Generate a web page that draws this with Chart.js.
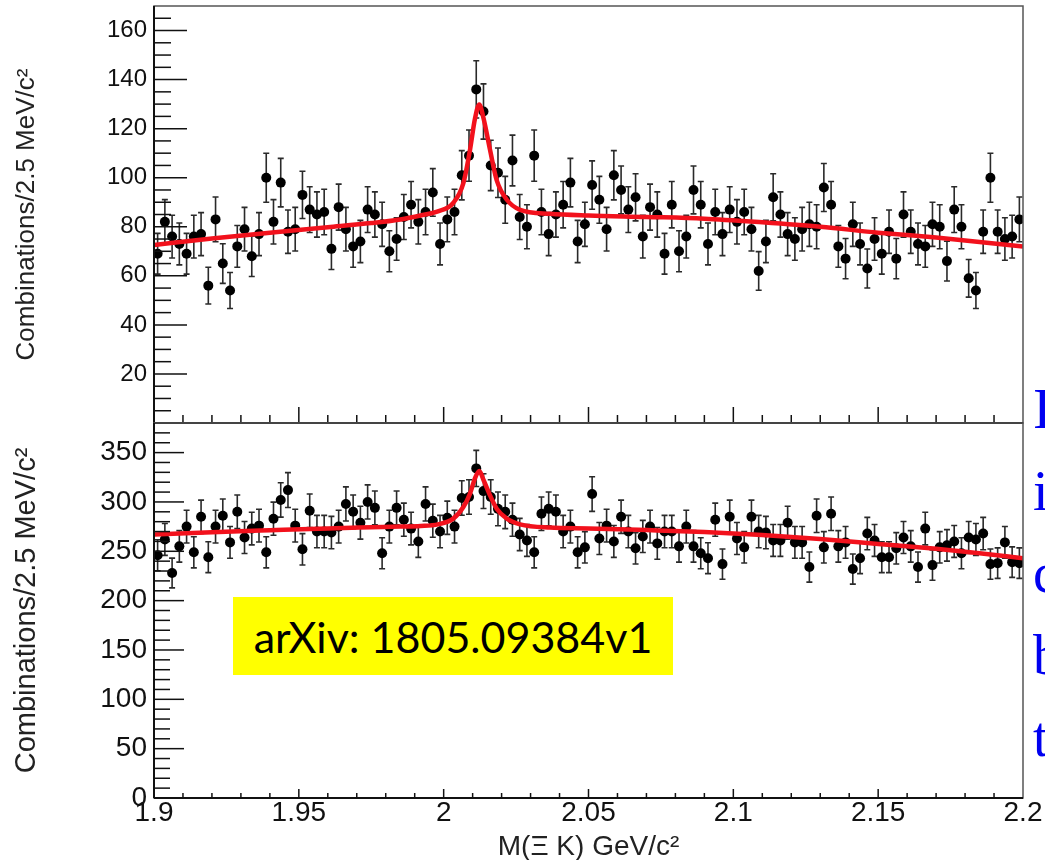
<!DOCTYPE html>
<html>
<head>
<meta charset="utf-8">
<script src="https://cdn.jsdelivr.net/npm/chart.js@4.4.1/dist/chart.umd.min.js"></script>
<style>
  html, body { margin: 0; padding: 0; background: #fff; overflow: hidden; }
  #wrap { position: relative; width: 1045px; height: 860px; overflow: hidden; }
  #chartA { position: absolute; left: 0; top: 0; }
  #chartB { position: absolute; left: 0; top: 400px; }
  #note {
    position: absolute; left: 233px; top: 597px; width: 440px; height: 78px;
    background: #ffff00; color: #000; font-family: Lato, sans-serif; font-size: 43px;
    display: flex; align-items: center; justify-content: center; z-index: 2;
  }
  #side {
    position: absolute; left: 1033px; top: 368px; font-family: "Liberation Serif", serif;
    font-size: 56px; line-height: 82px; color: #0000f0; white-space: nowrap;
  }
</style>
</head>
<body>
<div id="wrap">
  <canvas id="chartA" width="1045" height="430"></canvas>
  <canvas id="chartB" width="1045" height="480"></canvas>
  <div id="note">arXiv: 1805.09384v1</div>
  <div id="side">I<br>i<br>c<br>b<br>t</div>
</div>
<script>
// histogram binning: 2.5 MeV bins from 1.9 GeV
const binLow = 1.9;
const binWidth = 0.0025;

// panel (a) counts per bin
const countsA = [
  69, 82, 76, 73, 69, 76, 77, 56, 83, 65,
  54, 72, 79, 68, 77, 100, 82, 98, 78, 79,
  93, 87, 85, 86, 71, 88, 79, 72, 74, 87,
  85, 81, 70, 75, 84, 89, 82, 86, 94, 73,
  83, 86, 101, 109, 136, 127, 105, 102, 91, 107,
  84, 80, 109, 86, 77, 85, 89, 98, 74, 81,
  97, 91, 79, 101, 95, 87, 92, 76, 88, 85,
  69, 89, 70, 76, 95, 89, 73, 86, 77, 87,
  82, 86, 79, 62, 74, 92, 85, 77, 75, 79,
  81, 80, 96, 89, 72, 67, 81, 73, 63, 75,
  69, 78, 67, 85, 78, 73, 72, 81, 80, 66,
  87, 80, 59, 54, 78, 100, 78, 75, 76, 83
];

// panel (b) counts per bin
const countsB = [
  246, 262, 228, 255, 275, 249, 285, 244, 275, 286,
  259, 290, 264, 273, 276, 249, 283, 302, 312, 276,
  252, 291, 270, 270, 269, 275, 298, 290, 279, 300,
  294, 248, 275, 294, 282, 273, 260, 298, 281, 270,
  284, 275, 304, 305, 334, 311, 305, 293, 290, 282,
  267, 261, 249, 288, 293, 290, 270, 275, 249, 254,
  308, 263, 276, 260, 285, 270, 253, 265, 275, 258,
  270, 270, 255, 275, 255, 248, 243, 282, 237, 285,
  263, 254, 285, 270, 269, 261, 261, 279, 259, 259,
  234, 286, 254, 288, 255, 259, 232, 243, 268, 261,
  244, 244, 253, 264, 255, 234, 273, 236, 254, 256,
  260, 248, 264, 262, 268, 237, 238, 259, 239, 238
];

// fit curves
const fitX = [1.900, 1.920, 1.940, 1.960, 1.975, 1.985, 1.992, 1.998, 2.0033, 2.0068, 2.0091, 2.0108,
  2.0123, 2.0138, 2.0160, 2.0183, 2.0218, 2.0264, 2.0367, 2.050, 2.070, 2.090, 2.110, 2.130,
  2.150, 2.170, 2.185, 2.200];
const fitA = [72.6, 75.2, 77.6, 79.8, 81.5, 83.0, 84.6, 86.3, 89.7, 97.8, 111.4, 124,
  129.8, 124, 111.4, 99, 91, 86.9, 85.3, 84.6, 84.0, 83.3, 81.8, 80.0,
  77.6, 75.6, 73.8, 72.0];
const fitB = [267, 269.3, 271.3, 273.2, 274.3, 275.0, 275.6, 277.3, 283.1, 294.9, 308.4, 324,
  331.3, 322, 306.7, 293.2, 283.1, 277.3, 274.0, 273.2, 271.5, 269.5, 266.5, 262.5,
  257.5, 252.5, 248, 243];

// axis ticks
const xTickValues = [1.9, 1.95, 2.0, 2.05, 2.1, 2.15, 2.2];
const xTickLabels = ['1.9', '1.95', '2', '2.05', '2.1', '2.15', '2.2'];
const yTicksA = [20, 40, 60, 80, 100, 120, 140, 160];
const yTicksB = [0, 50, 100, 150, 200, 250, 300, 350];

const FONT = "'Liberation Sans', Arial, sans-serif";
const yTitle = 'Combinations/2.5 MeV/c\u00B2';

function toPoints(counts) {
  return counts.map((c, i) => ({ x: binLow + (i + 0.5) * binWidth, y: c }));
}
function fitPoints(ys) {
  return fitX.map((x, i) => ({ x: x, y: ys[i] }));
}

// ROOT-like frame and inward ticks
const rootFrame = {
  id: 'rootFrame',
  afterDraw(chart, args, o) {
    const { ctx, chartArea: a, scales: { x, y } } = chart;
    ctx.save();
    ctx.strokeStyle = '#111';
    ctx.lineWidth = 1.5;
    const seg = (x1, y1, x2, y2) => { ctx.beginPath(); ctx.moveTo(x1, y1); ctx.lineTo(x2, y2); ctx.stroke(); };
    // y ticks
    for (let v = o.yMinorStep; v < y.max; v += o.yMinorStep) {
      const py = y.getPixelForValue(v);
      const len = (Math.round(v) % o.yMajorStep === 0) ? o.yMajorLen : o.yMinorLen;
      seg(a.left, py, a.left + len, py);
    }
    // x ticks
    for (let k = 1; k < 30; k++) {
      const v = 1.9 + k * 0.01;
      const px = x.getPixelForValue(v);
      const len = (k % 5 === 0) ? o.xMajorLen : o.xMinorLen;
      seg(px, a.bottom, px, a.bottom - len);
    }
    // frame
    ctx.strokeStyle = '#555';
    ctx.lineWidth = 1.5;
    ctx.strokeRect(a.left, a.top, a.right - a.left, a.bottom - a.top);
    ctx.strokeStyle = '#111';
    ctx.lineWidth = 2;
    seg(a.left, a.top, a.left, a.bottom);
    seg(a.left, a.bottom, a.right, a.bottom);
    ctx.restore();
  }
};

// poisson error bars under the markers
const errorBars = {
  id: 'errorBars',
  beforeDatasetsDraw(chart) {
    const { ctx, chartArea: a, scales: { x, y } } = chart;
    const ds = chart.data.datasets[1];
    ctx.save();
    ctx.beginPath();
    ctx.rect(a.left, a.top, a.right - a.left, a.bottom - a.top);
    ctx.clip();
    ctx.strokeStyle = '#2a2a2a';
    ctx.lineWidth = 1.6;
    ds.data.forEach(p => {
      const err = Math.sqrt(p.y);
      const px = x.getPixelForValue(p.x);
      const top = y.getPixelForValue(p.y + err);
      const bot = y.getPixelForValue(p.y - err);
      ctx.beginPath();
      ctx.moveTo(px, top); ctx.lineTo(px, bot);
      ctx.moveTo(px - 3, top); ctx.lineTo(px + 3, top);
      ctx.moveTo(px - 3, bot); ctx.lineTo(px + 3, bot);
      ctx.stroke();
    });
    ctx.restore();
  }
};

function makeChart(id, counts, fit, yMax, yTicks, opts) {
  return new Chart(document.getElementById(id).getContext('2d'), {
    type: 'scatter',
    data: {
      datasets: [
        {
          type: 'line',
          data: fitPoints(fit),
          borderColor: '#f2111c',
          borderWidth: 4.5,
          pointRadius: 0,
          fill: false,
          cubicInterpolationMode: 'monotone'
        },
        {
          data: toPoints(counts),
          backgroundColor: '#000',
          borderWidth: 0,
          pointRadius: 5
        }
      ]
    },
    options: {
      responsive: false,
      devicePixelRatio: 1,
      animation: false,
      layout: { padding: opts.padding },
      plugins: { legend: { display: false }, tooltip: { enabled: false }, rootFrame: opts.frame },
      scales: {
        x: opts.xScale,
        y: {
          type: 'linear',
          min: 0,
          max: yMax,
          afterBuildTicks: s => { s.ticks = yTicks.map(v => ({ value: v })); },
          afterFit: s => { s.width = 154; s.paddingTop = 0; s.paddingBottom = 0; },
          grid: { display: false, drawTicks: false },
          border: { display: false },
          ticks: { font: { family: FONT, size: opts.yFont }, color: '#111', padding: 7 },
          title: {
            display: true, text: yTitle, color: '#222',
            font: { family: FONT, size: opts.yTitleFont },
            padding: { top: opts.yTitlePad, bottom: 0 }
          }
        }
      }
    },
    plugins: [errorBars, rootFrame]
  });
}

// panel (a)
makeChart('chartA', countsA, fitA, 170, yTicksA, {
  padding: { top: 6, right: 22, bottom: 7, left: 0 },
  yFont: 24, yTitleFont: 26, yTitlePad: 11,
  frame: { yMinorStep: 5, yMajorStep: 20, yMajorLen: 33, yMinorLen: 17, xMajorLen: 16, xMinorLen: 8 },
  xScale: { type: 'linear', min: 1.9, max: 2.2, display: false }
});

// panel (b)
makeChart('chartB', countsB, fitB, 380, yTicksB, {
  padding: { top: 23, right: 22, bottom: 0, left: 0 },
  yFont: 28, yTitleFont: 29, yTitlePad: 10,
  frame: { yMinorStep: 10, yMajorStep: 50, yMajorLen: 30, yMinorLen: 16, xMajorLen: 9, xMinorLen: 5 },
  xScale: {
    type: 'linear', min: 1.9, max: 2.2, position: 'bottom',
    afterBuildTicks: s => { s.ticks = xTickValues.map(v => ({ value: v })); },
    afterFit: s => { s.height = 82; s.paddingLeft = 0; s.paddingRight = 0; },
    grid: { display: false, drawTicks: false },
    border: { display: false },
    ticks: {
      font: { family: FONT, size: 28, lineHeight: 1.1 }, color: '#111', padding: 0,
      maxRotation: 0, autoSkip: false,
      callback: (v, i) => xTickLabels[i]
    },
    title: {
      display: true, text: 'M(\u039E K) GeV/c\u00B2', color: '#222',
      font: { family: FONT, size: 28 }, padding: { top: 0, bottom: 16 }
    }
  }
});
</script>
</body>
</html>
